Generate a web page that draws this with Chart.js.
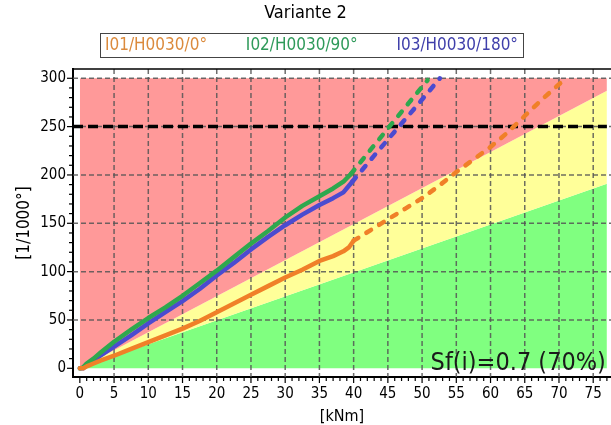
<!DOCTYPE html>
<html>
<head>
<meta charset="utf-8">
<script src="https://cdn.jsdelivr.net/npm/chart.js@4/dist/chart.umd.min.js"></script>
<style>
  html, body { margin: 0; padding: 0; background: #fff; }
  canvas { display: block; }
</style>
</head>
<body>
<canvas id="chart" width="611" height="425"></canvas>
<script>
// Torsion vs. moment for three load directions, with safety-factor zones.

const xTickValues = [0, 5, 10, 15, 20, 25, 30, 35, 40, 45, 50, 55, 60, 65, 70, 75];
const yTickValues = [0, 50, 100, 150, 200, 250, 300];

const seriesNames = ['I01/H0030/0°', 'I02/H0030/90°', 'I03/H0030/180°'];

// I01/H0030/0°  (measured part, then extrapolated part)
const i01SolidX = [0, 0.5, 1, 2, 3, 5, 7.5, 10, 12.5, 15, 17.5, 20, 22.5, 25, 27.5, 30, 32.5, 35, 37, 38.5, 39.3, 40];
const i01SolidY = [0, 0, 2, 5, 8, 13, 20, 27, 34, 41, 49, 58, 67, 76, 85, 94, 102, 111, 116, 121, 125, 132];
const i01DashX = [40, 42.5, 45, 47.5, 50, 52.5, 55, 57.5, 60, 62.5, 65, 67.5, 70.2];
const i01DashY = [132, 143, 154, 165, 176, 189, 203, 216, 229, 244, 261, 278, 295];

// I02/H0030/90°
const i02SolidX = [0, 0.5, 1, 2, 3, 5, 7.5, 10, 12.5, 15, 17.5, 20, 22.5, 25, 27.5, 30, 32.5, 35, 37, 38.5, 39.6];
const i02SolidY = [0, 1, 5, 10, 16, 27.5, 40, 52, 63, 75, 88, 101, 115, 129, 142, 156, 168, 178, 186, 193, 201];
const i02DashX = [39.6, 42, 45, 48, 50.8];
const i02DashY = [201, 222, 248, 274, 298];

// I03/H0030/180°
const i03SolidX = [0, 0.5, 1, 2, 3, 5, 7.5, 10, 12.5, 15, 17.5, 20, 22.5, 25, 27.5, 30, 32.5, 35, 37, 38.5, 39.8];
const i03SolidY = [0, 0, 3, 8, 13, 22.5, 34, 46.5, 58, 69.5, 82, 96, 109, 123, 136, 148, 159, 169, 176, 182, 193];
const i03DashX = [39.8, 43, 46.5, 50, 52.6];
const i03DashY = [193, 220, 249, 278, 300];

// Zone boundaries (upper edge of each coloured band)
const zoneX = [0, 77];
const zoneRedTop = [300, 300];
const zoneYellowTop = [0, 287];
const zoneGreenTop = [0, 191];

// Limit line
const limitX = [-1, 77];
const limitY = [250, 250];

const safetyLabel = 'Sf(i)=0.7 (70%)';

const FONT = '"DejaVu Sans Condensed", "DejaVu Sans", sans-serif';
const COLORS = ['#F08028', '#2EA84E', '#4B4BD0'];
const LEGEND_COLORS = ['#DB8A3C', '#2F9A5A', '#3F3FAA'];
const GRID_COLOR = 'rgba(85,85,85,0.85)';

const pts = (xs, ys) => xs.map((x, i) => ({ x, y: ys[i] }));

function seriesLine(label, xs, ys, color, dashed) {
  return {
    label,
    data: pts(xs, ys),
    borderColor: color,
    borderWidth: 4.5,
    borderDash: dashed ? [5.5, 9.5] : [],
    borderCapStyle: 'round',
    borderJoinStyle: 'round',
    pointRadius: 0,
    fill: false,
    tension: 0,
    order: 0
  };
}

function zone(label, ys, color, fill) {
  return {
    label,
    data: pts(zoneX, ys),
    borderColor: 'rgba(0,0,0,0)',
    borderWidth: 0,
    backgroundColor: color,
    pointRadius: 0,
    fill,
    order: 10
  };
}

const datasets = [
  seriesLine('I01', i01SolidX, i01SolidY, COLORS[0], false),
  seriesLine('I01 ext', i01DashX, i01DashY, COLORS[0], true),
  seriesLine('I02', i02SolidX, i02SolidY, COLORS[1], false),
  seriesLine('I02 ext', i02DashX, i02DashY, COLORS[1], true),
  seriesLine('I03', i03SolidX, i03SolidY, COLORS[2], false),
  seriesLine('I03 ext', i03DashX, i03DashY, COLORS[2], true),
  {
    label: 'limit',
    data: pts(limitX, limitY),
    borderColor: '#000',
    borderWidth: 3.5,
    borderDash: [10, 5],
    pointRadius: 0,
    fill: false,
    order: 5
  },
  zone('zoneRed', zoneRedTop, '#FF9999', '+1'),
  zone('zoneYellow', zoneYellowTop, '#FFFF99', '+1'),
  zone('zoneGreen', zoneGreenTop, '#80FF80', 'origin')
];

// Grid lines sit above the zone fills but below the curves.
function drawGrid(chart) {
  const { ctx, chartArea: a, scales: { x, y } } = chart;
  ctx.save();
  ctx.strokeStyle = GRID_COLOR;
  ctx.lineWidth = 1.5;
  ctx.setLineDash([5, 3]);
  xTickValues.forEach(v => {
    if (v === 0) return;
    const px = x.getPixelForValue(v);
    ctx.beginPath(); ctx.moveTo(px, a.top); ctx.lineTo(px, a.bottom); ctx.stroke();
  });
  yTickValues.forEach(v => {
    if (v === 0) return;
    const py = y.getPixelForValue(v);
    ctx.beginPath(); ctx.moveTo(a.left, py); ctx.lineTo(a.right, py); ctx.stroke();
  });
  ctx.restore();
}

const overlay = {
  id: 'overlay',
  beforeDatasetDraw(chart, args) {
    if (chart.data.datasets[args.index].label === 'limit') drawGrid(chart);
  },
  afterDatasetsDraw(chart) {
    const { ctx, scales: { x, y } } = chart;
    ctx.save();
    ctx.font = `25px ${FONT}`;
    ctx.fillStyle = '#1a1a1a';
    ctx.textAlign = 'right';
    ctx.textBaseline = 'alphabetic';
    ctx.fillText(safetyLabel, x.getPixelForValue(zoneX[1]) - 1, y.getPixelForValue(0) + 2);
    ctx.restore();
  },
  afterDraw(chart) {
    const { ctx, chartArea: a, scales: { x, y } } = chart;
    ctx.save();
    // top frame line
    ctx.strokeStyle = '#000';
    ctx.lineWidth = 1.5;
    ctx.beginPath(); ctx.moveTo(a.left, a.top); ctx.lineTo(a.right, a.top); ctx.stroke();
    // major and minor tick marks
    ctx.lineWidth = 1.2;
    for (let v = 0; v <= 77; v += 1) {
      const px = x.getPixelForValue(v);
      const len = v % 5 === 0 ? 6 : 4;
      ctx.beginPath(); ctx.moveTo(px, a.bottom); ctx.lineTo(px, a.bottom + len); ctx.stroke();
    }
    for (let v = 0; v <= 300; v += 10) {
      const py = y.getPixelForValue(v);
      const len = v % 50 === 0 ? 6 : 4;
      ctx.beginPath(); ctx.moveTo(a.left, py); ctx.lineTo(a.left - len, py); ctx.stroke();
    }
    // legend
    const boxL = 100, boxR = 523, boxT = 33, boxB = 57, padL = 5, padR = 5;
    ctx.font = `17px ${FONT}`;
    const widths = seriesNames.map(t => ctx.measureText(t).width);
    const total = widths.reduce((s, w) => s + w, 0);
    const gap = (boxR - boxL - padL - padR - total) / (seriesNames.length - 1);
    ctx.strokeStyle = '#444';
    ctx.lineWidth = 1;
    ctx.strokeRect(boxL + 0.5, boxT + 0.5, boxR - boxL, boxB - boxT);
    ctx.textAlign = 'left';
    ctx.textBaseline = 'middle';
    let tx = boxL + padL;
    seriesNames.forEach((t, i) => {
      ctx.fillStyle = LEGEND_COLORS[i];
      ctx.fillText(t, tx, (boxT + boxB) / 2 + 1);
      tx += widths[i] + gap;
    });
    ctx.restore();
  }
};

new Chart(document.getElementById('chart'), {
  type: 'line',
  data: { datasets },
  plugins: [overlay],
  options: {
    responsive: false,
    animation: false,
    events: [],
    layout: { padding: 0 },
    plugins: {
      legend: { display: false },
      tooltip: { enabled: false },
      title: {
        display: true,
        text: 'Variante 2',
        color: '#000',
        font: { family: FONT, size: 18, weight: 'normal', lineHeight: 1.2 },
        padding: { top: 3, bottom: 44.4 }
      },
      filler: { propagate: false }
    },
    scales: {
      x: {
        type: 'linear',
        min: -1,
        max: 77.6,
        afterBuildTicks: s => { s.ticks = xTickValues.map(v => ({ value: v })); },
        afterFit: s => { s.height = 48; },
        grid: { display: false, drawTicks: false },
        border: { display: true, color: '#000', width: 2 },
        ticks: { color: '#000', padding: 8, maxRotation: 0, autoSkip: false, font: { family: FONT, size: 15 } },
        title: {
          display: true, text: '[kNm]', color: '#000',
          font: { family: FONT, size: 16, lineHeight: 1 },
          padding: { top: 0, bottom: 0 }
        }
      },
      y: {
        type: 'linear',
        min: -9,
        max: 309.6,
        afterBuildTicks: s => { s.ticks = yTickValues.map(v => ({ value: v })); },
        afterFit: s => { s.width = 73; },
        grid: { display: false, drawTicks: false },
        border: { display: true, color: '#000', width: 2 },
        ticks: { color: '#000', padding: 7, autoSkip: false, font: { family: FONT, size: 15 } },
        title: {
          display: true, text: '[1/1000°]', color: '#000',
          font: { family: FONT, size: 17, lineHeight: 1.2 },
          padding: { top: 14, bottom: 0 }
        }
      }
    }
  }
});
</script>
</body>
</html>
